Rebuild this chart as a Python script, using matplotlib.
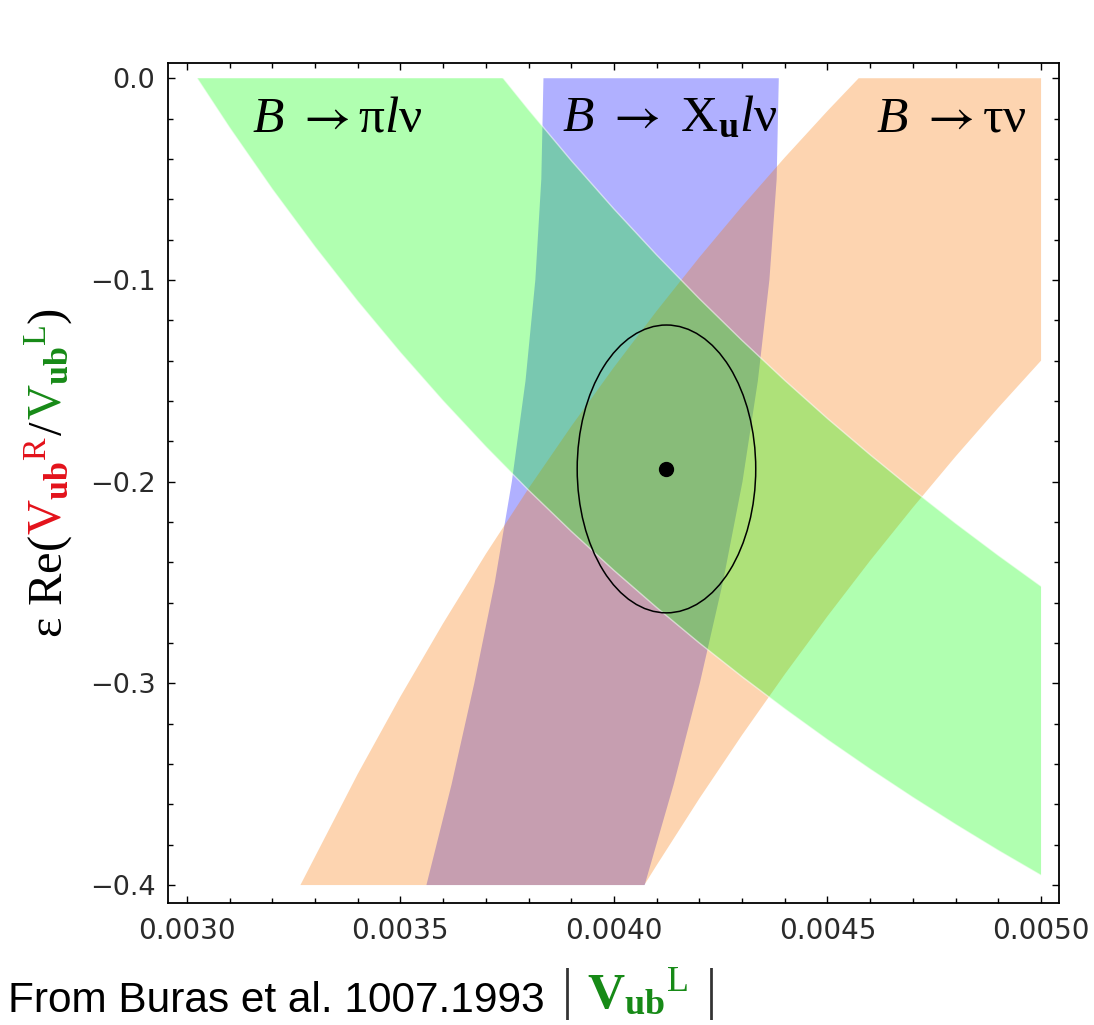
import matplotlib
matplotlib.use("Agg")
import matplotlib.pyplot as plt
from matplotlib import transforms, font_manager
from matplotlib.patches import Ellipse
from matplotlib.ticker import MultipleLocator, FixedLocator

# ---------------- data ----------------
# B -> pi l nu band (green): upper and lower edges
GREEN_UPPER_X = [0.003741, 0.0038, 0.0039, 0.0040, 0.0041, 0.0042, 0.0043,
                 0.0044, 0.0045, 0.0046, 0.0047, 0.0048, 0.0049, 0.0050]
GREEN_UPPER_Y = [0.0, -0.0155, -0.0408, -0.0648, -0.0876, -0.1093, -0.1300,
                 -0.1498, -0.1687, -0.1867, -0.2040, -0.2206, -0.2365, -0.2518]
GREEN_LOWER_X = [0.003024, 0.0031, 0.0032, 0.0033, 0.0034, 0.0035, 0.0036,
                 0.0037, 0.0038, 0.0039, 0.0040, 0.0041, 0.0042, 0.0043,
                 0.0044, 0.0045, 0.0046, 0.0047, 0.0048, 0.0049, 0.0050]
GREEN_LOWER_Y = [0.0, -0.0245, -0.0550, -0.0836, -0.1106, -0.1360, -0.1600,
                 -0.1827, -0.2042, -0.2246, -0.2440, -0.2624, -0.2800, -0.2967,
                 -0.3127, -0.3280, -0.3426, -0.3566, -0.3700, -0.3829, -0.3952]

# B -> tau nu band (orange): left edge (bottom to top), right edge (top to bottom)
ORANGE_LEFT_X = [0.003266, 0.0034, 0.0035, 0.0036, 0.0037, 0.0038, 0.0039,
                 0.0040, 0.0041, 0.0042, 0.0043, 0.0044, 0.0045, 0.004573]
ORANGE_LEFT_Y = [-0.4, -0.3450, -0.3066, -0.2703, -0.2359, -0.2034, -0.1726,
                 -0.1433, -0.1154, -0.0888, -0.0635, -0.0393, -0.0162, 0.0]
ORANGE_RIGHT_X = [0.0050, 0.0050, 0.0049, 0.0048, 0.0047, 0.0046, 0.0045,
                  0.0044, 0.0043, 0.0042, 0.0041, 0.004071]
ORANGE_RIGHT_Y = [0.0, -0.1400, -0.1633, -0.1875, -0.2128, -0.2391, -0.2667,
                  -0.2955, -0.3256, -0.3571, -0.3902, -0.4]

# B -> X_u l nu band (blue)
BLUE_Y = [0.0, -0.05, -0.10, -0.15, -0.20, -0.25, -0.30, -0.35, -0.40]
BLUE_LEFT_X = [0.003835, 0.003830, 0.003816, 0.003793, 0.003761, 0.003721,
               0.003673, 0.003620, 0.003561]
BLUE_RIGHT_X = [0.004386, 0.004381, 0.004364, 0.004337, 0.004301, 0.004255,
                0.004201, 0.004140, 0.004072]

# fit ellipse and best-fit point
ELLIPSE_CENTER = (0.004123, -0.1937)
ELLIPSE_WIDTH = 0.000418
ELLIPSE_HEIGHT = 0.1427
BEST_FIT_X = [0.004121]
BEST_FIT_Y = [-0.1939]

X_TICKS = [0.0030, 0.0035, 0.0040, 0.0045, 0.0050]
X_TICK_LABELS = ["0.0030", "0.0035", "0.0040", "0.0045", "0.0050"]
Y_TICKS = [0.0, -0.1, -0.2, -0.3, -0.4]
Y_TICK_LABELS = ["0.0", "\u22120.1", "\u22120.2", "\u22120.3", "\u22120.4"]

BAND_LABELS = [r"$\mathit{B}\ \mathsf{\rightarrow}\mathrm{\pi}\mathit{l}\mathrm{\nu}$",
               r"$\mathit{B}\ \mathsf{\rightarrow}\ \mathrm{X}_{\mathbf{u}}\mathit{l}\mathrm{\nu}$",
               r"$\mathit{B}\ \mathsf{\rightarrow}\mathrm{\tau\nu}$"]
BAND_LABEL_X = [0.003152, 0.003879, 0.004613]
BAND_LABEL_Y = [-0.0262, -0.0262, -0.0262]

# ---------------- style ----------------
plt.rcParams["mathtext.fontset"] = "custom"
plt.rcParams["mathtext.rm"] = "Liberation Serif"
plt.rcParams["mathtext.it"] = "Liberation Serif:italic"
plt.rcParams["mathtext.bf"] = "Liberation Serif:bold"
plt.rcParams["mathtext.sf"] = "STIXGeneral"

BLUE = (0.0, 0.0, 1.0)
ORANGE = (0.976, 0.467, 0.0)
GREEN = (0.0, 1.0, 0.0)
ALPHA = 0.31
RED_TXT = "#e3121b"
GREEN_TXT = "#178a17"

W, H = 1094, 1025
fig = plt.figure(figsize=(W / 100, H / 100), dpi=100)
ax = fig.add_axes([168 / W, 1 - 903 / H, (1059 - 168) / W, (903 - 62.7) / H])

# bands
ax.fill(BLUE_LEFT_X + BLUE_RIGHT_X[::-1], BLUE_Y + BLUE_Y[::-1],
        color=BLUE, alpha=ALPHA, lw=0, zorder=1)
ax.fill(ORANGE_LEFT_X + ORANGE_RIGHT_X, ORANGE_LEFT_Y + ORANGE_RIGHT_Y,
        color=ORANGE, alpha=ALPHA, lw=0, zorder=2)
ax.fill(GREEN_UPPER_X + GREEN_LOWER_X[::-1], GREEN_UPPER_Y + GREEN_LOWER_Y[::-1],
        color=GREEN, alpha=ALPHA, lw=0, zorder=3)
ax.plot(GREEN_UPPER_X, GREEN_UPPER_Y, color="white", lw=1.0, alpha=0.55, zorder=3.5)
ax.plot(GREEN_LOWER_X, GREEN_LOWER_Y, color="white", lw=1.0, alpha=0.55, zorder=3.5)

ax.add_patch(Ellipse(ELLIPSE_CENTER, ELLIPSE_WIDTH, ELLIPSE_HEIGHT, fill=False,
                     edgecolor="black", lw=1.1, zorder=5))
ax.plot(BEST_FIT_X, BEST_FIT_Y, "o", color="black", ms=10, zorder=6)

for s, x, y in zip(BAND_LABELS, BAND_LABEL_X, BAND_LABEL_Y):
    ax.text(x, y, s, fontsize=37, ha="left", va="baseline", color="black", zorder=7)

ax.set_xlim(0.002956, 0.005042)
ax.set_ylim(-0.4089, 0.0077)
ax.xaxis.set_major_locator(FixedLocator(X_TICKS))
ax.set_xticklabels(X_TICK_LABELS)
ax.yaxis.set_major_locator(FixedLocator(Y_TICKS))
ax.set_yticklabels(Y_TICK_LABELS)
ax.xaxis.set_minor_locator(MultipleLocator(0.0001))
ax.yaxis.set_minor_locator(MultipleLocator(0.02))
ax.tick_params(which="both", direction="in", top=True, right=True,
               width=1.0, color="black")
ax.tick_params(which="major", length=5)
ax.tick_params(which="minor", length=3.5)
ax.tick_params(axis="x", which="major", labelsize=20, pad=10, labelcolor="#2a2a2a")
ax.tick_params(axis="y", which="major", labelsize=19.5, pad=9, labelcolor="#2a2a2a")
for sp in ax.spines.values():
    sp.set_linewidth(1.3)

# ---------------- multi-coloured labels ----------------
renderer = fig.canvas.get_renderer()


def stack_text(pieces, x, y, rotation):
    """pieces: (text, colour, fontsize, family or None, gap_after_px)"""
    trans = fig.transFigure
    for s, color, size, family, gap in pieces:
        kw = {"family": family} if family else {}
        t = fig.text(x, y, s, color=color, fontsize=size, rotation=rotation,
                     rotation_mode="anchor", ha="left", va="baseline",
                     transform=trans, **kw)
        ex = t.get_window_extent(renderer)
        if rotation == 90:
            trans = transforms.offset_copy(t.get_transform(), y=ex.height + gap, units="dots")
        else:
            trans = transforms.offset_copy(t.get_transform(), x=ex.width + gap, units="dots")


ylabel_pieces = [
    (r"$\mathrm{\varepsilon\ Re(}$", "black", 35, None, 0),
    (r"$\mathrm{V}_{\mathbf{ub}}{}^{\mathrm{R}}$", RED_TXT, 35, None, 0),
    (r"$\mathrm{/}$", "black", 35, None, 0),
    (r"$\mathrm{V}_{\mathbf{ub}}{}^{\mathrm{L}}$", GREEN_TXT, 35, None, 0),
    (r"$\mathrm{)}$", "black", 35, None, 0),
]
stack_text(ylabel_pieces, 62 / W, 1 - 638 / H, 90)

# caption + x label
names = {f.name for f in font_manager.fontManager.ttflist}
if "Liberation Sans Narrow" in names:
    cap_family, cap_size = "Liberation Sans Narrow", 37
else:
    cap_family, cap_size = "Liberation Sans", 30.5
fig.text(8 / W, 1 - 1012 / H, "From Buras et al. 1007.1993", family=cap_family,
         fontsize=cap_size, ha="left", va="baseline", color="black")

xlabel_pieces = [
    ("|", "#333333", 40, "Liberation Serif", 14),
    (r"$\mathbf{V}_{\mathbf{ub}}{}^{\mathrm{L}}$", GREEN_TXT, 37, None, 18),
    ("|", "#333333", 40, "Liberation Serif", 0),
]
stack_text(xlabel_pieces, 562 / W, 1 - 1008 / H, 0)

fig.savefig("out.png", dpi=100)
